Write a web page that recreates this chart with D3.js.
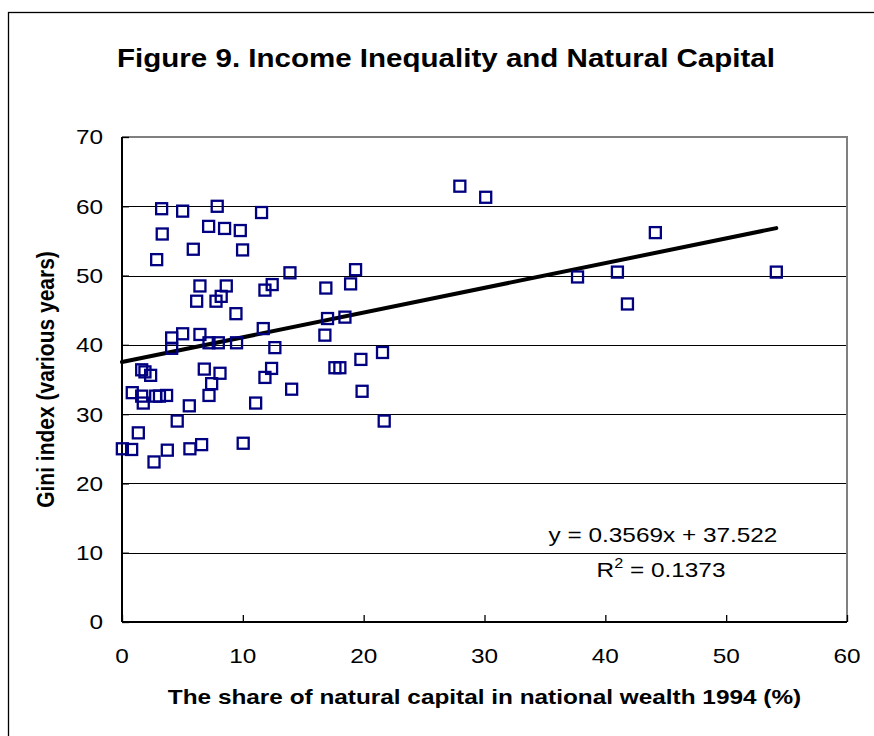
<!DOCTYPE html>
<html>
<head>
<meta charset="utf-8">
<script src="https://cdn.jsdelivr.net/npm/d3@7/dist/d3.min.js"></script>
<style>
  html, body { margin: 0; padding: 0; background: #fff; }
  svg { display: block; font-family: "Liberation Sans", Arial, sans-serif; }
</style>
</head>
<body>
<svg id="chart" width="874" height="736"></svg>
<script>
// ---- data ----
const naturalShare = [
  3.28, 5.02, 7.88, 11.55, 3.33, 7.17, 8.49, 9.79, 5.90, 9.98,
  2.87, 13.90, 6.45, 8.63, 12.43, 11.83, 8.21, 7.78, 6.18, 9.43,
  11.69, 4.11, 5.02, 6.45, 4.11, 7.20, 7.97, 9.48, 12.65, 1.63,
  1.90, 2.37, 6.81, 8.11, 7.42, 12.38, 11.83, 14.04, 0.85, 1.63,
  1.76, 2.79, 3.10, 3.69, 7.20, 5.57, 11.06, 1.35, 4.57, 0.03,
  0.80, 3.75, 2.65, 5.62, 6.59, 10.03, 19.33, 16.87, 18.92, 17.01,
  18.45, 16.79, 21.56, 19.77, 17.62, 18.03, 19.87, 21.70, 27.96, 30.10,
  44.14, 37.70, 41.00, 41.83, 54.15
];
const giniIndex = [
  59.65, 59.3, 60.0, 59.1, 56.0, 57.1, 56.8, 56.5, 53.8, 53.7,
  52.3, 50.4, 48.5, 48.5, 48.7, 47.9, 47.0, 46.3, 46.3, 44.5,
  42.35, 41.0, 41.6, 41.5, 39.5, 40.3, 40.3, 40.3, 39.6, 36.4,
  36.1, 35.6, 36.5, 35.9, 34.4, 36.6, 35.3, 33.6, 33.1, 32.6,
  31.6, 32.6, 32.6, 32.7, 32.7, 31.2, 31.6, 27.3, 29.0, 25.0,
  24.9, 24.8, 23.1, 25.0, 25.6, 25.8, 50.85, 48.2, 48.8, 43.8,
  44.0, 41.4, 38.9, 37.9, 36.7, 36.7, 33.3, 29.0, 62.9, 61.3,
  56.2, 49.8, 50.5, 45.9, 50.5
];
const xTicks = [0, 10, 20, 30, 40, 50, 60];
const yTicks = [0, 10, 20, 30, 40, 50, 60, 70];
const trendSlope = 0.3569;
const trendIntercept = 37.522;
const rSquared = 0.1373;
const titleText = "Figure 9. Income Inequality and Natural Capital";
const xTitleText = "The share of natural capital in national wealth 1994 (%)";
const yTitleText = "Gini index (various years)";

// ---- layout ----
const svg = d3.select("#chart");
const plot = { left: 122, top: 137, right: 847, bottom: 622 };
const stretch = 1.16;   // reference glyphs are horizontally widened
const navy = "#000080";

const x = d3.scaleLinear().domain([0, 60]).range([plot.left, plot.right]);
const y = d3.scaleLinear().domain([0, 70]).range([plot.bottom, plot.top]);

// outer chart border
svg.append("rect")
  .attr("x", 8.5).attr("y", 12.5)
  .attr("width", 900).attr("height", 800)
  .attr("fill", "none").attr("stroke", "#000").attr("stroke-width", 1.3);

// gridlines
svg.append("g").selectAll("line")
  .data(yTicks.filter(d => d > 0 && d < 70))
  .join("line")
  .attr("x1", plot.left).attr("x2", plot.right)
  .attr("y1", d => Math.round(y(d)) + 0.5).attr("y2", d => Math.round(y(d)) + 0.5)
  .attr("stroke", "#000").attr("stroke-width", 1);

// plot area border (top/right gray)
svg.append("path")
  .attr("d", `M${plot.left},${plot.top} H${plot.right} V${plot.bottom}`)
  .attr("fill", "none").attr("stroke", "#808080").attr("stroke-width", 2);

// axes
const xAxis = d3.axisBottom(x).tickValues(xTicks).tickSize(-7).tickFormat("");
const yAxis = d3.axisLeft(y).tickValues(yTicks).tickSize(-7).tickFormat("");
const gx = svg.append("g").attr("transform", `translate(0,${plot.bottom})`).call(xAxis);
const gy = svg.append("g").attr("transform", `translate(${plot.left},0)`).call(yAxis);
[gx, gy].forEach(g => {
  g.select(".domain").attr("stroke", "#000").attr("stroke-width", 2);
  g.selectAll(".tick line").attr("stroke", "#000").attr("stroke-width", 1.3);
});
gx.select(".domain").attr("d", `M${plot.left},0H${plot.right}`);
gy.select(".domain").attr("d", `M0,${plot.bottom}V${plot.top}`);

// stretched text helper
function sText(parent, tx, ty, str, opts) {
  const sx = opts.stretch || stretch;
  const t = parent.append("text")
    .attr("transform", `translate(${tx},${ty}) scale(${sx},1)` + (opts.rotate ? ` rotate(${opts.rotate})` : ""))
    .attr("text-anchor", opts.anchor || "middle")
    .attr("font-size", opts.size || 21)
    .attr("font-weight", opts.weight || "normal")
    .attr("fill", "#000");
  if (opts.dy) t.attr("dy", opts.dy);
  t.text(str);
  return t;
}
xTicks.forEach(v => sText(svg, x(v), 663, String(v), { size: 21 }));
yTicks.forEach(v => sText(svg, 103, y(v), String(v), { size: 21, anchor: "end", dy: "0.35em" }));

// trend line
const xMax = d3.max(naturalShare);
const trend = [0, xMax].map(v => [x(v), y(trendSlope * v + trendIntercept)]);
svg.append("path")
  .attr("d", d3.line()(trend))
  .attr("stroke", "#000").attr("stroke-width", 4).attr("stroke-linecap", "round")
  .attr("fill", "none");

// points
const pts = naturalShare.map((v, i) => [v, giniIndex[i]]);
svg.append("g").selectAll("rect")
  .data(pts)
  .join("rect")
  .attr("x", d => x(d[0]) - 5.5).attr("y", d => y(d[1]) - 5.5)
  .attr("width", 11).attr("height", 11)
  .attr("fill", "none").attr("stroke", navy).attr("stroke-width", 2.3);

// equation labels
sText(svg, 663, 542, `y = ${trendSlope}x + ${trendIntercept}`, { size: 21 });
const r2 = svg.append("text")
  .attr("transform", `translate(661,577) scale(${stretch},1)`)
  .attr("text-anchor", "middle").attr("font-size", 21).attr("fill", "#000");
r2.append("tspan").text("R");
r2.append("tspan").attr("font-size", 14).attr("dy", -9).text("2");
r2.append("tspan").attr("dy", 9).text(` = ${rSquared}`);

// titles
sText(svg, 446, 67, titleText, { size: 26.5, weight: "bold", stretch: 1.115 });
sText(svg, (plot.left + plot.right) / 2, 704, xTitleText, { size: 21, weight: "bold" });
svg.append("text")
  .attr("transform", `translate(54,${(plot.top + plot.bottom) / 2}) scale(${stretch},1) rotate(-90)`)
  .attr("text-anchor", "middle").attr("font-size", 21).attr("font-weight", "bold")
  .text(yTitleText);
</script>
</body>
</html>
